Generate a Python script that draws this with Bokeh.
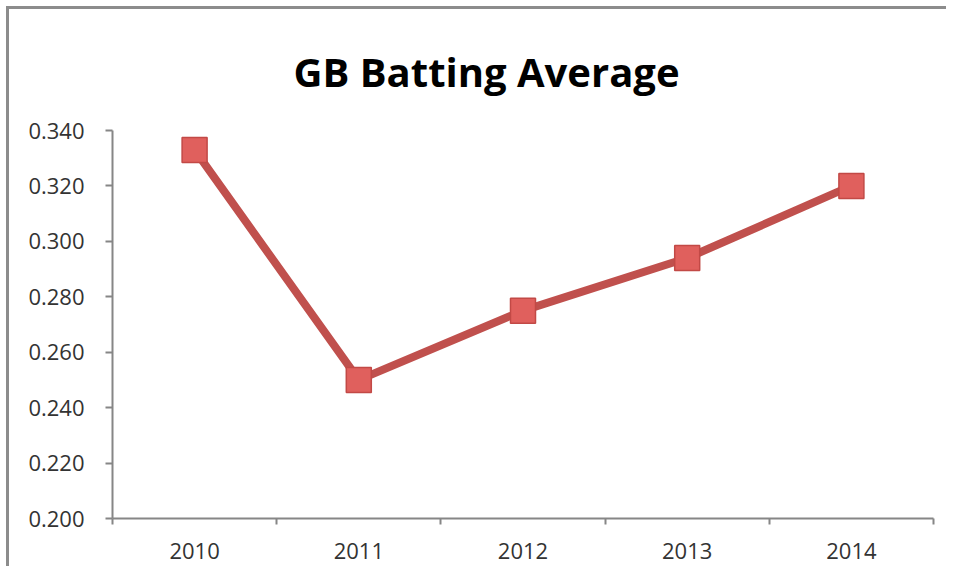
from bokeh.plotting import figure
from bokeh.models import FixedTicker, Range1d, ColumnDataSource, CustomJSTickFormatter
from bokeh.embed import file_html
from bokeh.resources import INLINE

years = ["2010", "2011", "2012", "2013", "2014"]
averages = [0.333, 0.250, 0.275, 0.294, 0.320]
y_ticks = [0.200, 0.220, 0.240, 0.260, 0.280, 0.300, 0.320, 0.340]

xs = list(range(1, len(years) + 1))
src = ColumnDataSource(dict(x=xs, y=averages, year=years))

p = figure(width=940, height=560, output_backend="svg", toolbar_location=None,
           x_range=Range1d(0.5, len(years) + 0.5), y_range=Range1d(0.200, 0.340),
           min_border_left=103, min_border_right=16, min_border_top=121, min_border_bottom=51,
           title="GB Batting Average")
p.styles = {"border-top": "3px solid #8c8c8c", "border-left": "3px solid #8c8c8c",
            "margin-left": "6px", "margin-top": "6px"}

p.title.align = "left"
p.title.offset = 181
p.title.text_font = "Open Sans"
p.title.text_font_style = "bold"
p.title.text_font_size = "40px"
p.title.text_color = "#000000"
p.title.standoff = 63

p.outline_line_color = None
p.grid.grid_line_color = None

xa = p.xaxis[0]
xa.ticker = FixedTicker(ticks=xs, minor_ticks=[i + 0.5 for i in range(0, len(years) + 1)])
xa.major_label_overrides = {x: y for x, y in zip(xs, years)}
xa.major_tick_line_color = None
xa.minor_tick_line_color = "#868686"
xa.minor_tick_line_width = 2
xa.minor_tick_out = 6
xa.minor_tick_in = 0
xa.axis_line_color = "#868686"
xa.axis_line_width = 2
xa.major_label_text_font = "Open Sans"
xa.major_label_text_font_size = "22px"
xa.major_label_text_color = "#333333"
xa.major_label_standoff = 18

ya = p.yaxis[0]
ya.ticker = FixedTicker(ticks=y_ticks, minor_ticks=[])
ya.formatter = CustomJSTickFormatter(code="return tick.toFixed(3);")
ya.major_tick_line_color = "#868686"
ya.major_tick_line_width = 2
ya.major_tick_out = 7
ya.major_tick_in = 0
ya.axis_line_color = "#868686"
ya.axis_line_width = 2
ya.major_label_text_font = "Open Sans"
ya.major_label_text_font_size = "22px"
ya.major_label_text_color = "#333333"
ya.major_label_standoff = 21

p.line("x", "y", source=src, line_color="#c0504d", line_width=8)
p.scatter("x", "y", source=src, marker="square", size=25,
          fill_color="#e0605d", line_color="#c24946", line_width=1.5)

open("out.html", "w").write(file_html(p, INLINE))
